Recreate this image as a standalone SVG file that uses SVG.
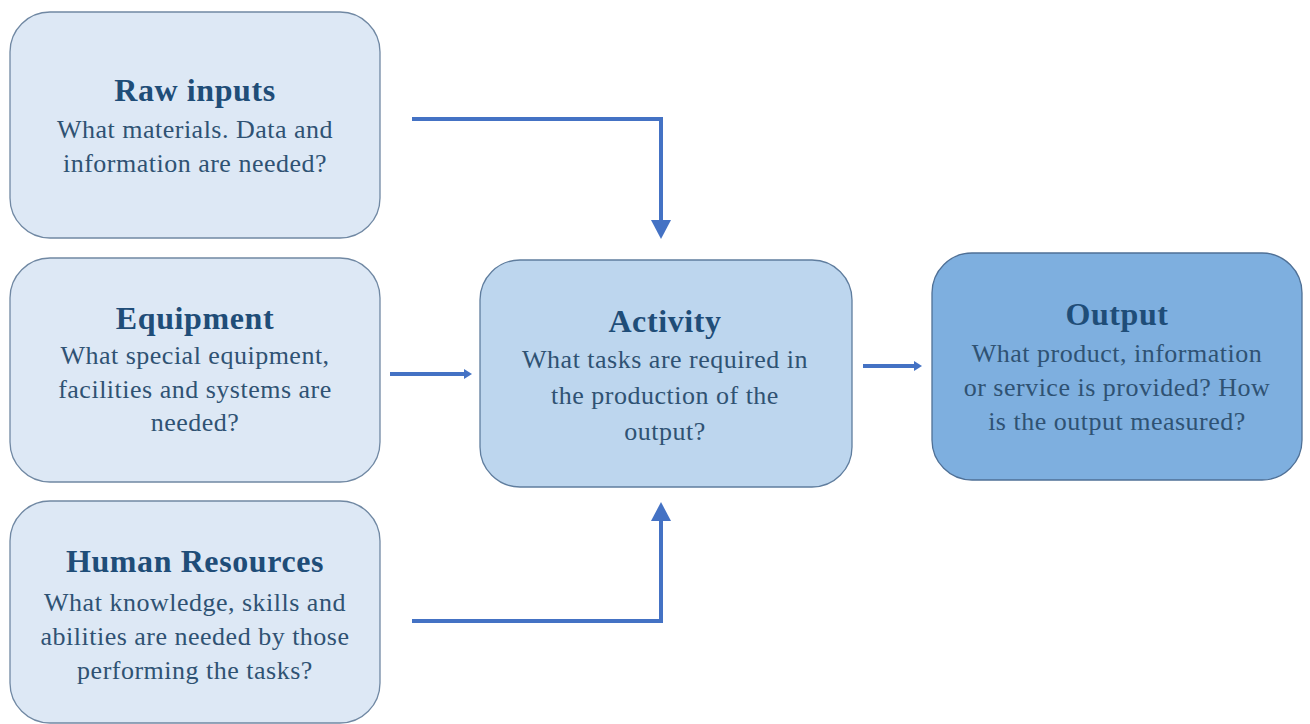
<svg xmlns="http://www.w3.org/2000/svg" width="1310" height="724" viewBox="0 0 1310 724">
  <style>
    .box { stroke-width: 1.3; }
    .light { fill: #dde8f5; stroke: #7088a3; }
    .mid { fill: #bdd6ee; stroke: #5f7d9e; }
    .dark { fill: #7eafdf; stroke: #4f7096; }
    .title { font-family: "Liberation Serif", "DejaVu Serif", serif; font-weight: bold; font-size: 32px; letter-spacing: 0.6px; fill: #1f4d78; text-anchor: middle; }
    .body { font-family: "Liberation Serif", "DejaVu Serif", serif; font-size: 26px; letter-spacing: 0.5px; fill: #2f5273; text-anchor: middle; }
    .conn { fill: none; stroke: #4472c4; stroke-width: 4; }
    .head { fill: #4472c4; }
  </style>

  <rect width="1310" height="724" fill="#ffffff"/>

  <g id="connectors">
    <path class="conn" d="M412 119 H661 V222"/>
    <polygon class="head" points="651,220 671,220 661,239"/>
    <path class="conn" d="M412 621 H661 V519"/>
    <polygon class="head" points="651,521 671,521 661,502"/>
    <path class="conn" d="M390 374 H465"/>
    <polygon class="head" points="464,369 472,374 464,379"/>
    <path class="conn" d="M863 366 H915"/>
    <polygon class="head" points="914,361 922,366 914,371"/>
  </g>

  <g id="raw-inputs">
    <rect class="box light" x="10" y="12" width="370" height="226" rx="40"/>
    <text class="title" x="195" y="101">Raw inputs</text>
    <text class="body" x="195" y="138">What materials. Data and</text>
    <text class="body" x="195" y="172">information are needed?</text>
  </g>

  <g id="equipment">
    <rect class="box light" x="10" y="258" width="370" height="224" rx="40"/>
    <text class="title" x="195" y="329">Equipment</text>
    <text class="body" x="195" y="364">What special equipment,</text>
    <text class="body" x="195" y="398">facilities and systems are</text>
    <text class="body" x="195" y="431">needed?</text>
  </g>

  <g id="human-resources">
    <rect class="box light" x="10" y="501" width="370" height="222" rx="40"/>
    <text class="title" x="195" y="572">Human Resources</text>
    <text class="body" x="195" y="611">What knowledge, skills and</text>
    <text class="body" x="195" y="645">abilities are needed by those</text>
    <text class="body" x="195" y="679">performing the tasks?</text>
  </g>

  <g id="activity">
    <rect class="box mid" x="480" y="260" width="372" height="227" rx="40"/>
    <text class="title" x="665" y="332">Activity</text>
    <text class="body" x="665" y="368">What tasks are required in</text>
    <text class="body" x="665" y="404">the production of the</text>
    <text class="body" x="665" y="440">output?</text>
  </g>

  <g id="output">
    <rect class="box dark" x="932" y="253" width="370" height="227" rx="40"/>
    <text class="title" x="1117" y="325">Output</text>
    <text class="body" x="1117" y="362">What product, information</text>
    <text class="body" x="1117" y="396">or service is provided? How</text>
    <text class="body" x="1117" y="430">is the output measured?</text>
  </g>
</svg>
